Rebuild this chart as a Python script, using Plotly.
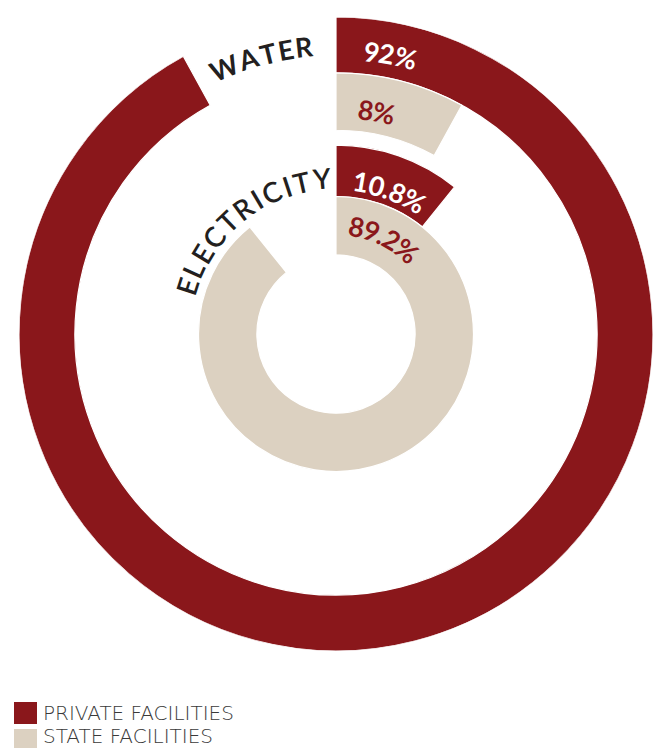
import math
import plotly.graph_objects as go

# ---- data -------------------------------------------------------------
services = ["WATER", "ELECTRICITY"]
private_share = [92.0, 10.8]   # % of facilities that are private
state_share = [8.0, 89.2]      # % of facilities run by the state
legend_labels = ["PRIVATE FACILITIES", "STATE FACILITIES"]

# ---- style / layout constants ----------------------------------------
RED = "#8A171B"
BEIGE = "#DCD1C1"
INK = "#231F20"
GREY_TXT = "#3A3A3A"
FONT = "Lato"

W, H = 653, 748
X_LEFT = 19                      # left edge of the polar frame, px
CY = 334                         # vertical centre of the rings, px
R_FRAME = (W - X_LEFT) / 2       # frame radius in px
CX = X_LEFT + R_FRAME            # horizontal centre, px
R_MAX = 320.5                    # radial range (outer edge of the outer band)
K = R_FRAME / R_MAX              # px per radial unit

# ring bands (inner, outer) in radial units, outermost first
BANDS = {
    ("WATER", "private"): (264, 320.5),
    ("WATER", "state"): (206, 264),
    ("ELECTRICITY", "private"): (139, 191),
    ("ELECTRICITY", "state"): (80, 139),
}

fig = go.Figure()


def ring_trace(kind, shares, color):
    inner = [BANDS[(s, kind)][0] for s in services]
    outer = [BANDS[(s, kind)][1] for s in services]
    return go.Barpolar(
        r=[o - i for i, o in zip(inner, outer)],
        base=inner,
        theta=[v * 3.6 / 2 for v in shares],
        width=[v * 3.6 for v in shares],
        marker=dict(color=color, line=dict(color="white", width=1.2)),
        showlegend=False,
        hoverinfo="skip",
    )


fig.add_trace(ring_trace("private", private_share, RED))
fig.add_trace(ring_trace("state", state_share, BEIGE))

# approximate advance widths (em) for the glyphs used
WIDTHS = {
    "0": 0.58, "1": 0.58, "2": 0.58, "8": 0.58, "9": 0.58,
    "%": 0.80, ".": 0.24,
    "A": 0.684, "C": 0.673, "E": 0.55, "I": 0.27, "L": 0.473,
    "R": 0.621, "T": 0.575, "W": 0.975, "Y": 0.625,
}

annotations = []


def arc_text(text, r_units, angle, size, color, weight, spacing):
    """Lay a string out letter by letter along a circle, centred on `angle`."""
    r = r_units * K
    adv = [WIDTHS.get(ch, 0.6) * size + spacing for ch in text]
    total = sum(adv) - spacing
    s = -total / 2
    for ch, a in zip(text, adv):
        mid = s + (a - spacing) / 2
        ang = angle + math.degrees(mid / r)
        px = CX + r * math.sin(math.radians(ang))
        py = CY - r * math.cos(math.radians(ang))
        annotations.append(dict(
            x=px / W, y=1 - py / H, xref="paper", yref="paper",
            text=ch, showarrow=False, textangle=ang,
            xanchor="center", yanchor="middle",
            font=dict(family=FONT, size=size, color=color, weight=weight),
        ))
        s += a


# percentage labels near the start of each band: (radius, centre angle)
PCT_POS = {("WATER", "private"): (288, 11.0), ("WATER", "state"): (229, 10.3),
           ("ELECTRICITY", "private"): (156, 20.5),
           ("ELECTRICITY", "state"): (111, 26.5)}
for svc, p, q in zip(services, private_share, state_share):
    for kind, val, col in (("private", p, "white"), ("state", q, RED)):
        r_lab, a_lab = PCT_POS[(svc, kind)]
        arc_text(f"{val:g}%", r_lab, a_lab, 27, col, 700, 0.0)

# service names curved along the open part of the rings
arc_text(services[0], 292, -15.0, 27, INK, 700, 3.2)
arc_text(services[1], 158, -38.5, 28, INK, 600, 3.5)

# legend
shapes = []
legend_rows = [(713, 702, 724, RED), (736, 729, 750, BEIGE)]
for (yc, y_top, y_bot, col), label in zip(legend_rows, legend_labels):
    shapes.append(dict(type="rect", xref="paper", yref="paper",
                       x0=14 / W, x1=37 / W,
                       y0=1 - y_bot / H, y1=1 - y_top / H,
                       fillcolor=col, line=dict(width=0)))
    annotations.append(dict(x=42 / W, y=1 - yc / H, xref="paper", yref="paper",
                            text=label, showarrow=False, borderpad=0,
                            xanchor="left", yanchor="middle",
                            font=dict(family="DejaVu Sans", size=20,
                                      color=GREY_TXT, weight=200)))

fig.update_layout(
    width=W, height=H,
    margin=dict(l=0, r=0, t=0, b=0),
    paper_bgcolor="white",
    plot_bgcolor="white",
    polar=dict(
        domain=dict(x=[X_LEFT / W, 1.0],
                    y=[1 - (CY + R_FRAME) / H, 1 - (CY - R_FRAME) / H]),
        bgcolor="rgba(0,0,0,0)",
        barmode="overlay",
        radialaxis=dict(range=[0, R_MAX], visible=False, showgrid=False),
        angularaxis=dict(direction="clockwise", rotation=90, visible=False,
                         showgrid=False),
    ),
    annotations=annotations,
    shapes=shapes,
    showlegend=False,
)

fig.write_html("out.html")
